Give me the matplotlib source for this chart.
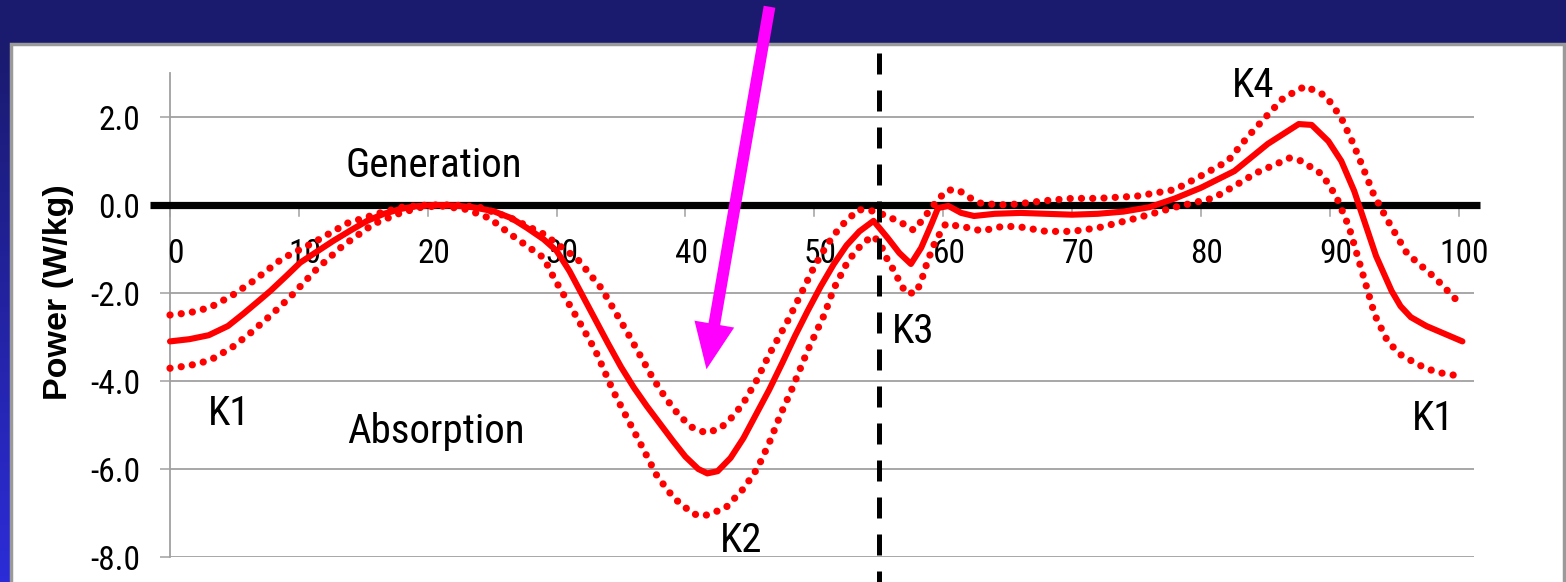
import numpy as np
import matplotlib
matplotlib.use("Agg")
import matplotlib.pyplot as plt
from matplotlib.patches import Rectangle, FancyArrowPatch, ArrowStyle

NARROW = ['Liberation Sans Narrow', 'Arial Narrow', 'Roboto Condensed', 'Archivo Narrow',
          'Liberation Sans', 'DejaVu Sans']
plt.rcParams['font.family'] = NARROW

# ---------------- data ----------------
mean_x = [0, 1.5, 3, 4.5, 5.7, 7, 7.8, 9, 10.1, 11.5, 12.7, 14, 15.3, 16.6, 17.9, 19, 20.5, 22, 23.5,
          25.1, 26.5, 27.7, 29, 30, 31, 32, 33, 34, 35, 36, 37, 38, 39, 40, 41, 41.7, 42.5, 43.5, 44.5,
          45.5, 46.5, 47.5, 48.5, 49.5, 50.5, 51.5, 52.5, 53.5, 54.6, 55.7, 56.6, 57.5, 58.3, 59.1, 59.6,
          60.4, 61.4, 62.4, 64, 66, 68, 70, 72, 74, 76, 78, 80, 82.6, 85.2, 87.6, 88.6, 89.9, 90.9, 91.9,
          92.9, 93.6, 94.8, 95.5, 96.3, 97.5, 98.7, 100.3]
mean_y = [-3.1, -3.05, -2.96, -2.75, -2.47, -2.15, -1.95, -1.62, -1.31, -1.04, -0.81, -0.58, -0.36, -0.2,
          -0.09, -0.03, 0.0, -0.01, -0.05, -0.14, -0.3, -0.52, -0.78, -1.04, -1.5, -2.05, -2.6, -3.15,
          -3.68, -4.15, -4.57, -4.96, -5.35, -5.72, -6.0, -6.1, -6.05, -5.75, -5.3, -4.75, -4.2, -3.6,
          -2.98, -2.4, -1.85, -1.35, -0.92, -0.6, -0.36, -0.75, -1.09, -1.34, -0.97, -0.43, -0.07, -0.02,
          -0.18, -0.25, -0.2, -0.18, -0.2, -0.22, -0.2, -0.15, -0.05, 0.15, 0.39, 0.77, 1.39, 1.84, 1.82,
          1.45, 1.0, 0.32, -0.55, -1.16, -1.95, -2.3, -2.55, -2.75, -2.9, -3.1]

upper_x = [0, 1.5, 3.1, 4.8, 6.5, 8.7, 11.1, 13.8, 16.3, 18, 20, 22, 24, 26.4, 29, 31.6, 33.5, 35.5,
           37.5, 38.5, 39.5, 40.5, 41.6, 42.7, 43.7, 44.5, 45.1, 45.5, 46.5, 48, 49, 50, 51, 52, 53.4,
           54.2, 55.2, 56, 56.8, 57.7, 58.4, 59, 59.7, 60.4, 61.2, 61.9, 63, 65, 68, 70, 72, 75, 78, 80,
           82.1, 83.7, 85.1, 86.4, 88.1, 89.7, 90.9, 91.8, 92.6, 93.4, 94.4, 96, 98.2, 100.3]
upper_y = [-2.5, -2.45, -2.33, -2.06, -1.72, -1.22, -0.86, -0.41, -0.18, -0.05, 0.0, 0.0, -0.05, -0.29,
           -0.66, -1.22, -1.9, -2.9, -3.95, -4.4, -4.78, -5.05, -5.18, -5.08, -4.8, -4.5, -4.2, -4.0,
           -3.4, -2.6, -2.0, -1.4, -0.9, -0.5, -0.11, -0.11, -0.2, -0.3, -0.41, -0.57, -0.34, -0.1, 0.16,
           0.34, 0.34, 0.19, 0.03, 0.0, 0.1, 0.15, 0.15, 0.2, 0.35, 0.66, 1.0, 1.57, 2.02, 2.43, 2.7,
           2.48, 1.98, 1.41, 0.84, 0.25, -0.3, -1.1, -1.66, -2.3]

lower_x = [0, 1.5, 3.1, 4.8, 6.2, 7.8, 9.3, 11.4, 13.4, 15.8, 17.9, 19.5, 21, 23, 24.8, 26.4, 29, 29.8,
           31.6, 33, 34.4, 35.4, 36.4, 37.8, 39.1, 40.6, 41.4, 43.1, 44.5, 45.6, 46.5, 47.4, 48.2, 49.5,
           50.8, 51.5, 52.5, 53.1, 53.8, 54.6, 55.2, 55.6, 56.1, 56.6, 57.1, 57.9, 58.3, 58.8, 59.4, 60.2,
           61.2, 62, 63, 64.7, 66, 68, 70, 72, 75, 78, 81, 82.6, 84.3, 86, 86.9, 87.8, 89.4, 90.5, 91.5,
           92.5, 93.5, 94.5, 95.5, 96.4, 97.5, 98.7, 100.3]
lower_y = [-3.71, -3.65, -3.53, -3.24, -2.92, -2.51, -2.1, -1.45, -0.93, -0.43, -0.18, -0.05, -0.02,
           -0.1, -0.3, -0.66, -1.2, -1.66, -2.57, -3.3, -4.23, -4.8, -5.36, -6.16, -6.66, -7.02, -7.07,
           -6.89, -6.45, -5.98, -5.41, -4.75, -4.23, -3.3, -2.48, -1.91, -1.34, -1.09, -0.86, -0.7, -0.93,
           -1.2, -1.45, -1.73, -2.0, -2.0, -1.73, -1.27, -0.82, -0.43, -0.48, -0.52, -0.59, -0.48, -0.5,
           -0.6, -0.6, -0.52, -0.3, -0.05, 0.16, 0.43, 0.73, 0.95, 1.07, 1.0, 0.7, 0.2, -0.5, -1.5, -2.5,
           -3.1, -3.4, -3.55, -3.72, -3.82, -3.9]

x_ticks = [0, 10, 20, 30, 40, 50, 60, 70, 80, 90, 100]
y_ticks = [-8.0, -6.0, -4.0, -2.0, 0.0, 2.0]
toe_off = 55
y_label = "Power (W/kg)"

label_texts = ["Generation", "Absorption", "K1", "K2", "K3", "K4", "K1"]
label_pos = [(345, 177), (347, 443), (208, 425), (720, 552), (892, 343), (1232, 97), (1412, 430)]

# ---------------- figure ----------------
W, H = 1566, 582
fig = plt.figure(figsize=(W / 100, H / 100), dpi=100)
navy = '#1a1a6e'
fig.patch.set_facecolor(navy)


def fx(px):
    return px / W


def fy(py):
    return 1 - py / H


# left gradient strip
gax = fig.add_axes([0, 0, fx(10), 1 - 42 / H], zorder=-3)
grad = np.linspace(0, 1, 256).reshape(-1, 1)
c_top = np.array([0x1a, 0x1a, 0x6e]) / 255
c_bot = np.array([0x2c, 0x2c, 0xd8]) / 255
img = c_top[None, None, :] * (1 - grad[:, :, None]) + c_bot[None, None, :] * grad[:, :, None]
gax.imshow(img, aspect='auto', extent=[0, 1, 0, 1], origin='upper')
gax.set_axis_off()

# white panel with gray border
panel = Rectangle((fx(10.5), -0.05), fx(1563.5 - 10.5), 0.05 + fy(43.5), transform=fig.transFigure,
                  facecolor='white', edgecolor='#9a9a9a', linewidth=2.5, zorder=-2)
fig.add_artist(panel)

L, R, T, B = 170, 1474, 73, 557
ax = fig.add_axes([fx(L), fy(B), fx(R - L), fy(T) - fy(B)], zorder=1)
ax.patch.set_visible(False)
ax.set_xlim(0, 101.2)
ax.set_ylim(-8, 3)

for s in ['top', 'right', 'bottom']:
    ax.spines[s].set_visible(False)
ax.spines['left'].set_color('#a0a0a0')
ax.spines['left'].set_linewidth(1.3)

ax.set_yticks(y_ticks)
ax.set_yticklabels([f"{v:.1f}" for v in y_ticks])
ax.tick_params(axis='y', direction='out', length=7.5, width=1.1, color='#a0a0a0',
               labelsize=24, pad=14, labelcolor='black')
ax.yaxis.grid(True, color='#a0a0a0', linewidth=1.3)
ax.set_axisbelow(True)

# x ticks on the zero line
ax.set_xticks([])
for xt in x_ticks:
    ax.plot([xt, xt], [0, -0.25], color='#a0a0a0', lw=1.1, zorder=2, clip_on=False)
    ax.text(xt + 0.45, -1.32, str(xt), ha='center', va='baseline', fontsize=24, color='black', zorder=3)

ax.set_ylabel(y_label, fontsize=24.5, fontweight='bold', family=['Liberation Sans', 'DejaVu Sans'])
ax.yaxis.set_label_coords((74 - L) / (R - L), (B - 292) / (B - T))

# zero line
ax.plot([-1.55, 101.7], [0, 0], color='black', lw=5.2, solid_capstyle='butt', zorder=3, clip_on=False)

# curves
dot = (0, (0.01, 1.55))
ax.plot(upper_x, upper_y, color='#ff0000', lw=5.2, linestyle=dot, dash_capstyle='round',
        zorder=4, clip_on=False)
ax.plot(lower_x, lower_y, color='#ff0000', lw=5.2, linestyle=dot, dash_capstyle='round',
        zorder=4, clip_on=False)
ax.plot(mean_x, mean_y, color='#ff0000', lw=4.4, solid_joinstyle='round', solid_capstyle='round',
        zorder=5, clip_on=False)

# toe-off dashed line
ax.plot([toe_off, toe_off], [3.45, -8.7], color='black', lw=3.6, linestyle=(0, (4.2, 3.2)),
        dash_capstyle='butt', zorder=6, clip_on=False)

for txt, (px, py) in zip(label_texts, label_pos):
    fig.text(fx(px), fy(py), txt, fontsize=29.5, ha='left', va='baseline', color='black', zorder=5)

# magenta arrow
arrow = FancyArrowPatch((fx(770), fy(4)), (fx(706), fy(372)), transform=fig.transFigure,
                        arrowstyle=ArrowStyle.Simple(head_length=3.3, head_width=2.9, tail_width=0.85),
                        mutation_scale=10, color='#ff00ff', linewidth=0, zorder=10)
fig.add_artist(arrow)

fig.savefig("out.png", dpi=100, facecolor=fig.get_facecolor())
